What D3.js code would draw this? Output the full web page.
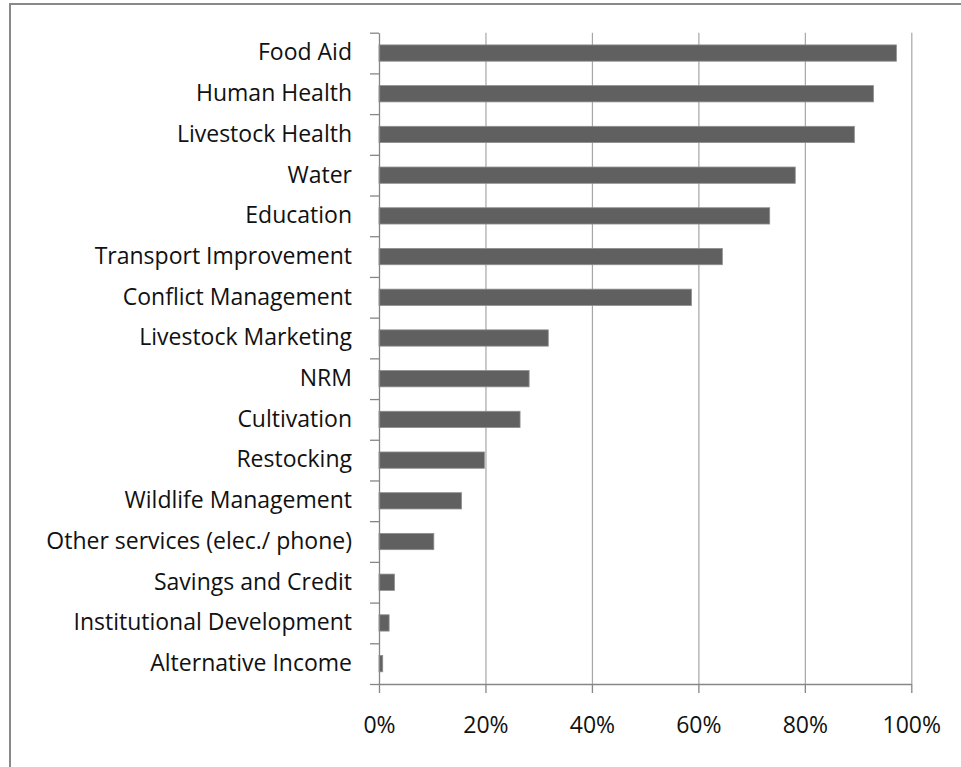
<!DOCTYPE html>
<html>
<head>
<meta charset="utf-8">
<script src="https://cdn.jsdelivr.net/npm/d3@7"></script>
<style>
  html, body { margin: 0; padding: 0; background: #fff; overflow: hidden; }
</style>
</head>
<body>
<div id="chart"></div>
<script>
// categories top to bottom, share of respondents
var categories = ["Food Aid", "Human Health", "Livestock Health", "Water", "Education",
    "Transport Improvement", "Conflict Management", "Livestock Marketing", "NRM",
    "Cultivation", "Restocking", "Wildlife Management", "Other services (elec./ phone)",
    "Savings and Credit", "Institutional Development", "Alternative Income"];
var values = [0.972, 0.929, 0.893, 0.782, 0.734, 0.645, 0.587, 0.318, 0.282,
    0.265, 0.198, 0.155, 0.103, 0.029, 0.019, 0.007];
var xTicks = [0, 0.2, 0.4, 0.6, 0.8, 1];

var width = 961, height = 767;
// plot box edges (note: "top" is reserved on window, so prefix these)
var plotLeft = 379, plotRight = 911.3, plotTop = 32.7, plotBottom = 684;
var font = "'Open Sans', sans-serif";
var fontSize = 23;

const svg = d3.select("#chart").append("svg")
    .attr("width", width)
    .attr("height", height)
    .style("font-family", font);

// chart frame (runs off the right and bottom edges)
svg.append("rect")
    .attr("x", 10).attr("y", 4)
    .attr("width", 1000).attr("height", 900)
    .attr("fill", "#fff")
    .attr("stroke", "#898989")
    .attr("stroke-width", 2);

var x = d3.scaleLinear().domain([0, 1]).range([plotLeft, plotRight]);
var y = d3.scaleBand().domain(categories).range([plotTop, plotBottom])
    .paddingInner(0.6).paddingOuter(0.3);
var slots = d3.scaleLinear().domain([0, categories.length]).range([plotTop, plotBottom]);

// vertical gridlines
svg.append("g")
    .attr("transform", `translate(0,${plotBottom})`)
    .call(d3.axisBottom(x).tickValues(xTicks.slice(1)).tickSize(-(plotBottom - plotTop)).tickFormat(""))
    .call(g => g.select(".domain").remove())
    .call(g => g.selectAll("line").attr("stroke", "#a6a6a6").attr("stroke-width", 1.2));

// bars
svg.append("g")
    .selectAll("rect")
    .data(values)
    .join("rect")
    .attr("x", x(0))
    .attr("y", (d, i) => y(categories[i]))
    .attr("width", d => x(d) - x(0))
    .attr("height", y.bandwidth())
    .attr("fill", "#606060")
    .attr("stroke", "#8e8e8e")
    .attr("stroke-width", 0.8);

// y axis: ticks between categories
svg.append("g")
    .attr("transform", `translate(${plotLeft},0)`)
    .call(d3.axisLeft(slots).tickValues(d3.range(categories.length + 1)).tickSize(9).tickSizeOuter(0).tickFormat(""))
    .call(g => g.selectAll("line, path").attr("stroke", "#868686").attr("stroke-width", 1.3));

// y labels
svg.append("g")
    .attr("transform", `translate(${plotLeft},0)`)
    .call(d3.axisLeft(y).tickSize(0).tickPadding(27))
    .call(g => g.select(".domain").remove())
    .call(g => g.selectAll("text")
        .attr("font-family", font)
        .attr("font-size", fontSize)
        .attr("fill", "#111"));

// x axis
svg.append("g")
    .attr("transform", `translate(0,${plotBottom})`)
    .call(d3.axisBottom(x).tickValues(xTicks).tickSize(9).tickSizeOuter(0).tickPadding(24).tickFormat(d3.format(".0%")))
    .call(g => g.selectAll("line, path").attr("stroke", "#868686").attr("stroke-width", 1.3))
    .call(g => g.selectAll("text")
        .attr("font-family", font)
        .attr("font-size", fontSize)
        .attr("fill", "#111"));
</script>
</body>
</html>
